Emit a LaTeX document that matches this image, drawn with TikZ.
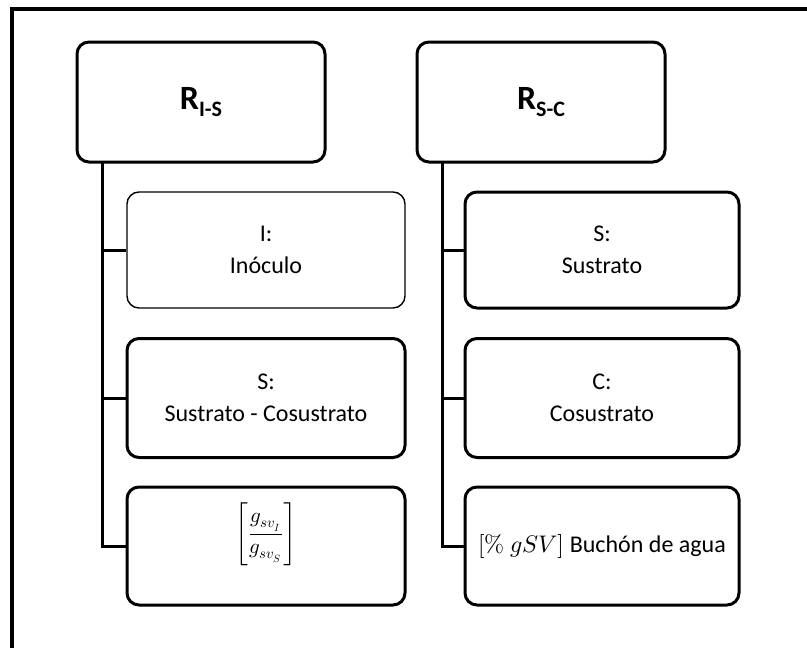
\documentclass[tikz,border=0pt]{standalone}
\usepackage{fontspec}
\usepackage{unicode-math}
\setmainfont{Carlito}
\setmathfont{Latin Modern Math}
\begin{document}
\begin{tikzpicture}[x=1pt,y=-1pt,
  box/.style={draw, line width=3pt, rounded corners=12pt, align=center, inner sep=0pt},
  thinbox/.style={box, line width=1.4pt},
  lbl/.style={font=\fontsize{24}{32}\selectfont},
  head/.style={font=\fontsize{34}{40}\selectfont\bfseries},
  conn/.style={line width=3pt}]
\useasboundingbox (0,0) rectangle (807,648);
% frame (only top and left visible)
\draw[line width=3.5pt] (12,648) |- (807,9);
% headers
\node[box, minimum width=248pt, minimum height=120pt, head] (h1) at (201,102) {R\raisebox{-7pt}{\fontsize{22}{24}\selectfont I-S}};
\node[box, minimum width=248pt, minimum height=120pt, head] (h2) at (541,102) {R\raisebox{-7pt}{\fontsize{22}{24}\selectfont S-C}};
% left column
\node[thinbox, minimum width=278pt, minimum height=116pt, lbl] (a1) at (266,250) {I:\\Inóculo};
\node[box, minimum width=278pt, minimum height=119pt, lbl] (a2) at (266,398) {S:\\Sustrato - Cosustrato};
\node[box, minimum width=278pt, minimum height=118pt, font=\fontsize{21}{28}\selectfont] (a3) at (266,546) {\raisebox{12pt}[\height][\depth]{$\left[\displaystyle\frac{g_{sv_I}}{g_{sv_S}}\right]$}};
% right column
\node[box, minimum width=274pt, minimum height=116pt, lbl] (b1) at (602,250) {S:\\Sustrato};
\node[box, minimum width=274pt, minimum height=119pt, lbl] (b2) at (602,398) {C:\\Cosustrato};
\node[box, minimum width=274pt, minimum height=118pt, lbl] (b3) at (602,546) {$[\%\ gSV]$ Buchón de agua};
% connectors
\coordinate (t1) at (102,162);
\coordinate (t2) at (442,162);
\draw[conn] (t1) |- (a3.west);
\draw[conn] (t1 |- a1.west) -- (a1.west);
\draw[conn] (t1 |- a2.west) -- (a2.west);
\draw[conn] (t2) |- (b3.west);
\draw[conn] (t2 |- b1.west) -- (b1.west);
\draw[conn] (t2 |- b2.west) -- (b2.west);
\end{tikzpicture}
\end{document}
